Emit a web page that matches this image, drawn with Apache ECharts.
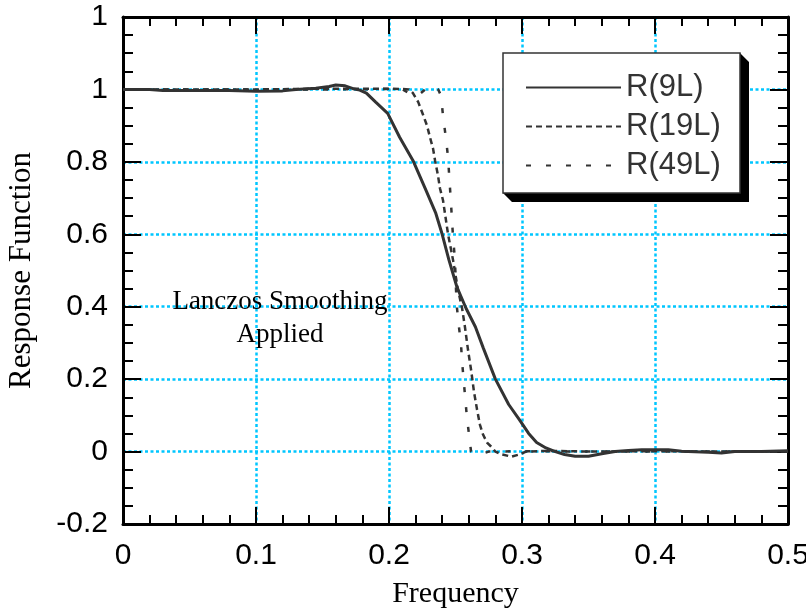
<!DOCTYPE html>
<html>
<head>
<meta charset="utf-8">
<script src="https://cdn.jsdelivr.net/npm/echarts@6/dist/echarts.min.js"></script>
<style>
    html, body { margin: 0; padding: 0; background: #fff; }
    #main { width: 806px; height: 613px; }
</style>
</head>
<body>
<div id="main"></div>
<script>
// values
var freq9 = [0, 0.02, 0.03, 0.05, 0.08, 0.1, 0.12, 0.13, 0.145, 0.155, 0.16, 0.167, 0.173, 0.178, 0.183, 0.19, 0.199, 0.208, 0.218, 0.228, 0.235, 0.24, 0.245, 0.251, 0.258, 0.265, 0.271, 0.28, 0.29, 0.298, 0.305, 0.311, 0.318, 0.325, 0.332, 0.34, 0.35, 0.36, 0.37, 0.38, 0.39, 0.41, 0.42, 0.44, 0.45, 0.46, 0.48, 0.5];
var resp9 = [1, 1, 0.997, 0.997, 0.997, 0.995, 0.996, 1.0, 1.003, 1.008, 1.012, 1.01, 1.002, 0.998, 0.99, 0.965, 0.934, 0.868, 0.804, 0.72, 0.66, 0.6, 0.53, 0.455, 0.395, 0.344, 0.285, 0.2, 0.13, 0.088, 0.05, 0.025, 0.01, 0.0, -0.008, -0.013, -0.013, -0.006, 0, 0.003, 0.005, 0.005, 0.001, -0.002, -0.004, 0, 0, 0.002];

var freq19 = [0, 0.05, 0.1, 0.15, 0.2, 0.21, 0.215, 0.218, 0.222, 0.2256, 0.2286, 0.2308, 0.2331, 0.2346, 0.2368, 0.2383, 0.2406, 0.2444, 0.2481, 0.2519, 0.2549, 0.2571, 0.2594, 0.2617, 0.2639, 0.2662, 0.2684, 0.2707, 0.2737, 0.2767, 0.28, 0.285, 0.292, 0.298, 0.303, 0.32, 0.35, 0.4, 0.45, 0.5];
var resp19 = [1, 1, 1, 1.002, 1.002, 1.001, 1, 0.99, 0.965, 0.93, 0.9, 0.868, 0.837, 0.804, 0.763, 0.727, 0.694, 0.6, 0.53, 0.446, 0.397, 0.344, 0.281, 0.226, 0.165, 0.116, 0.074, 0.047, 0.025, 0.014, 0.0, -0.008, -0.014, -0.008, 0, 0.002, 0, 0.001, 0, 0];

var freq49 = [0, 0.05, 0.1, 0.15, 0.2, 0.21, 0.215, 0.219, 0.224, 0.229, 0.233, 0.237, 0.2391, 0.2406, 0.2429, 0.2444, 0.2451, 0.2466, 0.2481, 0.2496, 0.2504, 0.2511, 0.2526, 0.2541, 0.2549, 0.2571, 0.2586, 0.2609, 0.2617, 0.265, 0.27, 0.275, 0.3, 0.35, 0.4, 0.45, 0.5];
var resp49 = [1, 1, 1, 1, 1.001, 1, 0.99, 0.983, 0.99, 1.006, 1.01, 1.0, 0.983, 0.928, 0.862, 0.813, 0.771, 0.686, 0.595, 0.529, 0.446, 0.397, 0.344, 0.3, 0.25, 0.157, 0.094, 0.025, 0.0, -0.006, -0.006, 0, 0.001, 0, 0, 0, 0];

var seriesNames = ['R(9L)', 'R(19L)', 'R(49L)'];

function zip(xs, ys) {
    var out = [];
    for (var i = 0; i < xs.length; i++) {
        out.push([xs[i], ys[i]]);
    }
    return out;
}

var gridColor = '#00c6ff';
var ink = '#333';

var tickStyle = {color: '#000', width: 2};
var splitStyle = {show: true, lineStyle: {color: gridColor, width: 2.5, type: [3, 2.5]}};

function xAxisOf(pos, main) {
    return {
        type: 'value',
        position: pos,
        min: 0,
        max: 0.5,
        interval: 0.1,
        axisLine: {show: true, onZero: false, lineStyle: {color: '#000', width: 3}},
        axisTick: {show: true, inside: true, length: 17, lineStyle: tickStyle},
        minorTick: {show: true, splitNumber: 5, length: 9, lineStyle: tickStyle},
        splitLine: main ? splitStyle : {show: false},
        axisLabel: {
            show: main,
            margin: 17,
            color: '#000',
            fontSize: 30,
            fontFamily: 'Liberation Sans',
            showMinLabel: true,
            showMaxLabel: true
        },
        name: main ? 'Frequency' : '',
        nameLocation: 'middle',
        nameGap: 55,
        nameMoveOverlap: false,
        nameTextStyle: {color: '#000', fontSize: 30, fontFamily: 'Liberation Serif'}
    };
}

function yAxisOf(pos, main) {
    return {
        type: 'value',
        position: pos,
        min: -0.2,
        max: 1.2,
        interval: 0.2,
        axisLine: {show: true, onZero: false, lineStyle: {color: '#000', width: 3}},
        axisTick: {show: true, inside: true, length: 18, lineStyle: tickStyle},
        minorTick: {show: true, splitNumber: 4, length: 10, lineStyle: tickStyle},
        splitLine: main ? splitStyle : {show: false},
        axisLabel: {
            show: main,
            margin: 15,
            color: '#000',
            fontSize: 30,
            fontFamily: 'Liberation Sans',
            showMinLabel: true,
            showMaxLabel: true,
            formatter: function (v) {
                return v > 1.1 ? '1' : String(Math.round(v * 10) / 10);
            }
        },
        name: main ? 'Response Function' : '',
        nameLocation: 'middle',
        nameGap: 86,
        nameMoveOverlap: false,
        nameTextStyle: {color: '#000', fontSize: 31, fontFamily: 'Liberation Serif'}
    };
}

var chart = echarts.init(document.getElementById('main'));
chart.setOption({
    animation: false,
    grid: {left: 123, right: 18, top: 17, bottom: 89, containLabel: false, outerBoundsMode: 'none'},
    legend: {
        data: seriesNames,
        orient: 'vertical',
        left: 503,
        top: 53,
        z: 6,
        padding: [19, 20, 15, 22],
        itemWidth: 95,
        itemHeight: 30,
        itemGap: 8,
        selectedMode: false,
        itemStyle: {opacity: 0, color: 'rgba(0,0,0,0)', borderWidth: 0},
        textStyle: {color: ink, fontSize: 31, fontFamily: 'Liberation Sans', lineHeight: 30}
    },
    xAxis: [xAxisOf('bottom', true), xAxisOf('top', false)],
    yAxis: [yAxisOf('left', true), yAxisOf('right', false)],
    graphic: [
        {
            // extruded shadow of the legend box
            type: 'polygon',
            z: 5,
            shape: {points: [[740, 53], [749, 62], [749, 202], [512, 202], [503, 193], [740, 193]]},
            style: {fill: '#000'}
        },
        {
            type: 'rect',
            z: 5,
            shape: {x: 503, y: 53, width: 237, height: 140},
            style: {fill: '#fff', stroke: ink, lineWidth: 1.5}
        },
        {
            type: 'text',
            x: 280,
            y: 285,
            z: 10,
            style: {
                text: 'Lanczos Smoothing\nApplied',
                align: 'center',
                verticalAlign: 'top',
                font: '27px "Liberation Serif"',
                lineHeight: 33,
                fill: '#000'
            }
        }
    ],
    series: [
        {
            name: seriesNames[0],
            type: 'line',
            symbol: 'none',
            color: ink,
            lineStyle: {color: ink, width: 3},
            data: zip(freq9, resp9)
        },
        {
            name: seriesNames[1],
            type: 'line',
            symbol: 'none',
            color: ink,
            lineStyle: {color: ink, width: 2.5, type: [6, 4]},
            data: zip(freq19, resp19)
        },
        {
            name: seriesNames[2],
            type: 'line',
            symbol: 'none',
            color: ink,
            lineStyle: {color: ink, width: 2.5, type: [5, 15]},
            data: zip(freq49, resp49)
        }
    ]
});
</script>
</body>
</html>
